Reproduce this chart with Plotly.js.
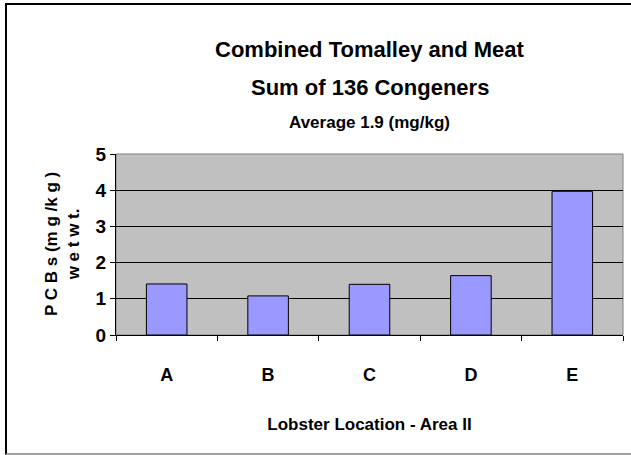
<!DOCTYPE html>
<html>
<head>
<meta charset="utf-8">
<script src="https://cdn.plot.ly/plotly-3.0.1.min.js"></script>
<style>
  body { margin: 0; background: #fff; }
  #wrap { position: relative; width: 631px; height: 455px; overflow: hidden; }
  #frame { position: absolute; left: 5px; top: 3px; width: 640px; height: 448px;
           border-left: 2px solid #000; border-top: 2px solid #000; border-bottom: 2px solid #a0a0a0;
           pointer-events: none; }
</style>
</head>
<body>
<div id="wrap">
  <div id="chart"></div>
  <div id="frame"></div>
</div>
<script>
// data
var locations = ['A', 'B', 'C', 'D', 'E'];
var pcbValues = [1.41, 1.08, 1.40, 1.64, 3.97];
var yTicks = [0, 1, 2, 3, 4, 5];

var FONT = 'Liberation Sans, Arial, sans-serif';

var bars = {
    x: locations,
    y: pcbValues,
    type: 'bar',
    hoverinfo: 'none',
    marker: {
        color: '#9999ff',
        line: { color: '#000000', width: 1 }
    }
};

var layout = {
    width: 631,
    height: 455,
    margin: { l: 116, r: 8, t: 154, b: 120 },
    paper_bgcolor: '#ffffff',
    plot_bgcolor: '#c0c0c0',
    showlegend: false,
    bargap: 0.6,
    font: { family: FONT, color: '#000', size: 16, weight: 'bold' },
    xaxis: {
        type: 'category',
        showline: true, linecolor: '#000', linewidth: 1,
        ticks: 'outside', tickson: 'boundaries', ticklen: 5, tickcolor: '#000',
        ticklabelstandoff: 23,
        tickfont: { family: FONT, size: 18, weight: 'bold' },
        showgrid: false,
        title: { text: 'Lobster Location - Area II', standoff: 34,
                 font: { family: FONT, size: 17, weight: 'bold' } }
    },
    yaxis: {
        range: [0, 5],
        tickvals: yTicks,
        showline: true, linecolor: '#000', linewidth: 1,
        ticks: 'outside', ticklen: 5, tickcolor: '#000',
        gridcolor: '#000', gridwidth: 1,
        zeroline: false,
        tickfont: { family: FONT, size: 19, weight: 'bold' }
    },
    shapes: [{
        type: 'rect', xref: 'paper', yref: 'paper', x0: 0, x1: 1, y0: 0, y1: 1,
        line: { color: '#808080', width: 1 }, layer: 'below'
    }],
    annotations: [
        { text: 'Combined Tomalley and Meat', xref: 'paper', yref: 'paper', x: 0.5, y: 1.66,
          showarrow: false, font: { family: FONT, size: 22, weight: 'bold' } },
        { text: 'Sum of 136 Congeners', xref: 'paper', yref: 'paper', x: 0.5, y: 1.445,
          showarrow: false, font: { family: FONT, size: 22, weight: 'bold' } },
        { text: 'Average 1.9 (mg/kg)', xref: 'paper', yref: 'paper', x: 0.5, y: 1.235,
          showarrow: false, font: { family: FONT, size: 17, weight: 'bold' } },
        { text: 'P C B s (m g /k g )<br>w e t w t.', xref: 'paper', yref: 'paper',
          x: -0.15, y: 0.505, textangle: -90, showarrow: false,
          font: { family: FONT, size: 17, weight: 'bold' } }
    ]
};

Plotly.newPlot('chart', [bars], layout, { staticPlot: true });
</script>
</body>
</html>
